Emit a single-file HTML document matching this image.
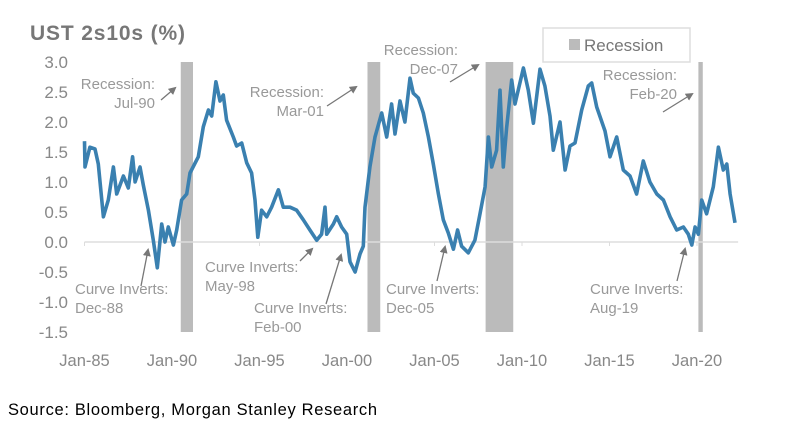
<!DOCTYPE html>
<html><head><meta charset="utf-8"><style>
html,body{margin:0;padding:0;background:#fff;}
svg{display:block;font-family:"Liberation Sans",Arial,sans-serif;}
</style></head><body>
<svg id="chart" width="810" height="434" viewBox="0 0 810 434">
<defs><marker id="ah" markerWidth="8" markerHeight="8" refX="6" refY="4" orient="auto" markerUnits="userSpaceOnUse"><path d="M0,0 L8,4 L0,8 z" fill="#777"/></marker></defs>
<text x="30" y="40" font-size="21" font-weight="bold" fill="#777" textLength="155">UST 2s10s (%)</text>
<g id="rec"></g>
<g id="axes"></g>
<g id="series"></g>
<g>
<rect x="543" y="28" width="147" height="34" fill="#fff" stroke="#ddd" stroke-width="1.5"/>
<rect x="569" y="39" width="11" height="11" fill="#bbb"/>
<text x="584" y="51" font-size="17" fill="#777">Recession</text>
</g>
<g font-size="15" fill="#999">
<text x="155" y="89" text-anchor="end"><tspan x="155">Recession:</tspan><tspan x="155" dy="19">Jul-90</tspan></text>
<text x="324" y="97" text-anchor="end"><tspan x="324">Recession:</tspan><tspan x="324" dy="19">Mar-01</tspan></text>
<text x="458" y="55" text-anchor="end"><tspan x="458">Recession:</tspan><tspan x="458" dy="19">Dec-07</tspan></text>
<text x="677" y="80" text-anchor="end"><tspan x="677">Recession:</tspan><tspan x="677" dy="19">Feb-20</tspan></text>
<text x="75" y="294"><tspan x="75">Curve Inverts:</tspan><tspan x="75" dy="19">Dec-88</tspan></text>
<text x="205" y="272"><tspan x="205">Curve Inverts:</tspan><tspan x="205" dy="19">May-98</tspan></text>
<text x="254" y="313"><tspan x="254">Curve Inverts:</tspan><tspan x="254" dy="19">Feb-00</tspan></text>
<text x="386" y="294"><tspan x="386">Curve Inverts:</tspan><tspan x="386" dy="19">Dec-05</tspan></text>
<text x="590" y="294"><tspan x="590">Curve Inverts:</tspan><tspan x="590" dy="19">Aug-19</tspan></text>
</g>
<g stroke="#777" stroke-width="1.3" marker-end="url(#ah)">
<line x1="161" y1="100" x2="175" y2="88"/>
<line x1="327" y1="106" x2="356" y2="87"/>
<line x1="450" y1="82" x2="478" y2="65"/>
<line x1="663" y1="112" x2="692" y2="94"/>
<line x1="141" y1="286" x2="148" y2="250"/>
<line x1="300" y1="261" x2="312" y2="249"/>
<line x1="326" y1="304" x2="341" y2="255"/>
<line x1="437" y1="281" x2="445" y2="247"/>
<line x1="677" y1="281" x2="685" y2="249"/>
</g>
<text x="8" y="415" font-size="16.5" fill="#000" textLength="369">Source: Bloomberg, Morgan Stanley Research</text>
</svg>
<script>
const dates=[1985.0,1985.03,1985.31,1985.6,1985.79,1986.08,1986.36,1986.65,1986.84,1987.22,1987.5,1987.75,1987.89,1988.17,1988.36,1988.65,1988.93,1989.16,1989.41,1989.6,1989.79,1990.08,1990.27,1990.55,1990.84,1991.03,1991.5,1991.79,1992.08,1992.27,1992.51,1992.74,1992.93,1993.12,1993.5,1993.69,1993.98,1994.27,1994.55,1994.74,1994.9,1995.12,1995.41,1995.69,1996.08,1996.36,1996.74,1997.12,1997.5,1997.88,1998.27,1998.55,1998.74,1998.84,1999.22,1999.41,1999.69,1999.98,2000.17,2000.46,2000.74,2000.93,2001.03,2001.31,2001.6,2001.98,2002.27,2002.55,2002.74,2003.03,2003.31,2003.6,2003.79,2004.08,2004.36,2004.65,2004.93,2005.22,2005.5,2005.79,2006.08,2006.32,2006.55,2006.93,2007.31,2007.6,2007.89,2008.08,2008.27,2008.55,2008.74,2008.93,2009.12,2009.41,2009.6,2010.08,2010.36,2010.65,2011.03,2011.31,2011.6,2011.79,2012.17,2012.46,2012.74,2013.03,2013.41,2013.79,2013.98,2014.27,2014.74,2015.03,2015.41,2015.79,2016.17,2016.55,2016.93,2017.31,2017.7,2018.08,2018.46,2018.84,2019.22,2019.5,2019.7,2019.89,2020.08,2020.27,2020.55,2020.93,2021.22,2021.5,2021.7,2021.89,2022.17];
const values=[1.68,1.25,1.58,1.55,1.3,0.42,0.7,1.25,0.8,1.1,0.9,1.42,1.0,1.25,0.95,0.53,0.03,-0.43,0.3,0.0,0.25,-0.05,0.2,0.7,0.8,1.15,1.42,1.92,2.2,2.1,2.67,2.35,2.45,2.03,1.75,1.6,1.65,1.32,1.15,0.7,0.08,0.53,0.42,0.58,0.87,0.58,0.58,0.53,0.37,0.2,0.03,0.13,0.58,0.13,0.3,0.42,0.25,0.13,-0.33,-0.5,-0.2,-0.07,0.58,1.25,1.75,2.15,1.75,2.3,1.8,2.35,2.0,2.73,2.48,2.4,2.15,1.75,1.3,0.8,0.37,0.15,-0.12,0.2,-0.07,-0.18,0.03,0.47,0.92,1.75,1.25,1.53,2.53,1.25,1.9,2.7,2.3,2.9,2.53,1.98,2.88,2.6,2.1,1.53,2.0,1.2,1.6,1.65,2.2,2.6,2.65,2.25,1.85,1.42,1.75,1.2,1.1,0.8,1.35,1.0,0.8,0.7,0.42,0.2,0.25,0.13,-0.05,0.25,0.13,0.7,0.47,0.92,1.58,1.2,1.3,0.8,0.32];
const recStart=[1990.5,2001.17,2007.92,2020.08];
const recEnd=[1991.2,2001.9,2009.5,2020.33];
const yTicks=[3.0,2.5,2.0,1.5,1.0,0.5,0.0,-0.5,-1.0,-1.5];
const xTickYears=[1985,1990,1995,2000,2005,2010,2015,2020];
const xTickLabels=["Jan-85","Jan-90","Jan-95","Jan-00","Jan-05","Jan-10","Jan-15","Jan-20"];
const NS="http://www.w3.org/2000/svg";
function xs(t){return 84.5+17.5*(t-1985);}
function ys(v){return 242-60*v;}
function mk(tag,attrs,parent){const e=document.createElementNS(NS,tag);for(const k in attrs)e.setAttribute(k,attrs[k]);parent.appendChild(e);return e;}
const rec=document.getElementById('rec'),axes=document.getElementById('axes'),ser=document.getElementById('series');
recStart.forEach((s,i)=>{
 const r=mk('rect',{x:xs(s),y:ys(3.0),width:Math.max(4,xs(recEnd[i])-xs(s)),height:ys(-1.5)-ys(3.0),fill:'#bbb'},rec);
 
 
});
const zl=mk('line',{x1:xs(1985),x2:xs(2022.35),y1:ys(0),y2:ys(0),stroke:'#ddd','stroke-width':1.5},axes);


yTicks.forEach(v=>{
 const t=mk('text',{x:68,y:ys(v)+6,'text-anchor':'end','font-size':17,fill:'#888'},axes);
 t.textContent=v.toFixed(1);
 
 
});
xTickYears.forEach((yr,i)=>{
 const tk=mk('line',{x1:xs(yr),x2:xs(yr),y1:ys(0),y2:ys(0)+4,stroke:'#ddd','stroke-width':1},axes);
 
 
 const t=mk('text',{x:xs(yr),y:366,'text-anchor':'middle','font-size':16.5,fill:'#888'},axes);
 t.textContent=xTickLabels[i];
 
 
});
let d='';dates.forEach((t,i)=>{d+=(i?'L':'M')+xs(t).toFixed(1)+','+ys(values[i]).toFixed(1);});
const p=mk('path',{d:d,fill:'none',stroke:'#3a80b0','stroke-width':3.6,'stroke-linejoin':'round'},ser);


</script>
</body></html>
